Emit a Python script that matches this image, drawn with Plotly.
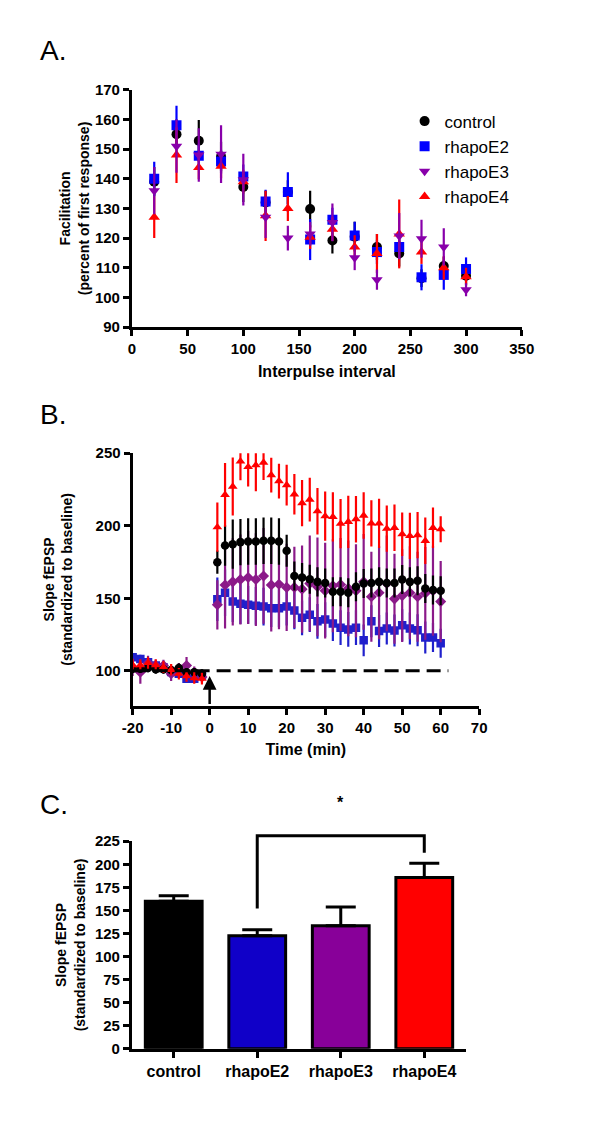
import plotly.graph_objects as go

# ---------------- Panel A data ----------------
ipi = [20, 40, 60, 80, 100, 120, 140, 160, 180, 200, 220, 240, 260, 280, 300]
a_control = [139, 155, 152.8, 147.5, 137.2, 132, 135.5, 129.8, 119.2, 120.5, 117, 114.8, 106.5, 110.6, 107.3]
a_control_err = [5, 5, 7, 5, 5, 4, 4, 6.2, 4.4, 5, 4.4, 4.4, 3, 3, 3]
a_e2 = [140, 158, 147.8, 145.8, 140.8, 132.3, 135.5, 119.5, 126.2, 120.9, 115.3, 117, 106.8, 107.6, 109.6]
a_e2_err = [5.7, 6.6, 4, 4, 4, 4, 6.7, 6.9, 4, 4.6, 4, 4, 4.4, 5, 3.9]
a_e3 = [136, 151, 148, 148.3, 139.7, 127, 120, 121.4, 125.3, 113.4, 106, 120.7, 119.8, 117, 102.6]
a_e3_err = [8, 9, 9, 9.7, 8.7, 7, 4.2, 4, 6.4, 4.2, 3.4, 7.8, 6.4, 6.3, 2.2]
a_e4 = [127, 148, 143.8, 144.2, 139, 127.5, 130, 120.3, 123, 117, 114.8, 121.4, 115.3, 110, 107]
a_e4_err = [7, 9.4, 4, 4, 4, 8.5, 4.2, 4, 4, 4, 6.6, 11.6, 4, 4, 3]
a_xticks = [0, 50, 100, 150, 200, 250, 300, 350]
a_yticks = [90, 100, 110, 120, 130, 140, 150, 160, 170]

# ---------------- Panel B data ----------------
b_time = [-20, -18, -16, -14, -12, -10, -8, -6, -4, -2,
          2, 4, 6, 8, 10, 12, 14, 16, 18, 20, 22, 24, 26, 28, 30,
          32, 34, 36, 38, 40, 42, 44, 46, 48, 50, 52, 54, 56, 58, 60]
b_control = [101.5, 101.4, 102, 101, 101, 100.5, 102, 99, 99, 98,
             174.9, 186.4, 187.3, 188.7, 189.1, 189.1, 189.6, 189.6, 189.1, 182.8,
             165.4, 164.3, 163.1, 161.3, 160.6, 154.5, 154.5, 153.8, 157.9, 160.2,
             160.6, 161.3, 160.6, 160.6, 162.9, 161.3, 162, 156.8, 155.7, 155.2]
b_control_err = [3, 3, 3, 3, 3, 3, 3, 3, 3, 3,
                 8, 14, 17, 16, 16, 16, 16, 16, 16, 11,
                 10, 10, 10, 10, 10, 10, 10, 10, 10, 10,
                 10, 10, 10, 10, 10, 10, 10, 10, 10, 10]
b_e2 = [109.3, 108.1, 105.9, 103.6, 102.5, 99.1, 98, 94.6, 94.6, 96.8,
        149.3, 153.8, 147.7, 146.2, 145.5, 144.8, 144.3, 143.2, 143.2, 144.3,
        141.6, 136.5, 138.7, 134.1, 135.3, 132.6, 129.7, 128.5, 129.7, 121,
        134.1, 127.4, 129.2, 127.8, 131.4, 129.2, 128, 122.9, 122.9, 119]
b_e2_err = [3, 3, 3, 3, 3, 3, 3, 3, 3, 3,
            15, 16, 14, 14, 13, 13, 13, 13, 13, 13,
            13, 12, 12, 12, 12, 12, 12, 12, 12, 11,
            11, 11, 11, 11, 11, 11, 11, 11, 10, 10]
b_e3 = [102.5, 99, 105.4, 103.6, 103.6, 98, 101.4, 103.6, 99, 95.7,
        145.5, 159.1, 161.3, 162.9, 164.3, 162.9, 165.4, 159.1, 159.7, 157.5,
        157.5, 156.3, 160.2, 157.9, 155.2, 158.6, 159.5, 156.8, 155.2, 161.3,
        151.1, 153.8, 160.2, 149.6, 151.8, 153.8, 151.1, 153.4, 155.2, 147.7]
b_e3_err = [6, 8, 5, 4, 4, 5, 4, 6, 4, 4,
            17, 30, 30, 31, 32, 32, 33, 32, 31, 30,
            28, 30, 33, 34, 33, 32, 32, 33, 32, 33,
            31, 32, 33, 31, 32, 32, 31, 32, 31, 28]
b_e4 = [104, 104, 105.4, 104, 102.5, 100.7, 98, 96.4, 95, 94.6,
        199, 221.3, 227, 244.4, 240.5, 241.7, 243.5, 234.9, 230.8, 228,
        221.7, 215.6, 218, 210, 206.6, 206.1, 201.4, 202.7, 204.5, 207,
        201.6, 201.6, 198, 198.6, 194.2, 193, 193.5, 189.6, 198.6, 197.6]
b_e4_err = [4, 4, 4, 4, 4, 4, 4, 4, 4, 4,
            17, 22, 20, 13, 13.5, 18, 12, 12, 12, 14,
            14, 16, 15, 16, 17, 17, 17, 18, 16, 16,
            16, 17, 16, 16, 15, 16, 16, 16, 14, 9]
b_xticks = [-20, -10, 0, 10, 20, 30, 40, 50, 60, 70]
b_yticks = [100, 150, 200, 250]
b_baseline = 100
b_induction_time = 0

# ---------------- Panel C data ----------------
c_groups = ["control", "rhapoE2", "rhapoE3", "rhapoE4"]
c_mean = [160, 122.5, 133.5, 185.8]
c_err = [6, 6.4, 20.3, 15.4]
c_yticks = [0, 25, 50, 75, 100, 125, 150, 175, 200, 225]

# ---------------- styling ----------------
W, H = 600, 1126
FONT = "Liberation Sans, Arial, sans-serif"
names = ["control", "rhapoE2", "rhapoE3", "rhapoE4"]
colA = ["#000000", "#0000FF", "#8800AA", "#FF0000"]
colB = ["#000000", "#2020CC", "#8B1A89", "#FF0000"]
colC = ["#000000", "#1000C8", "#880099", "#FF0000"]
symA = ["circle", "square", "triangle-down", "triangle-up"]
symB = ["circle", "square", "diamond", "triangle-up"]


def dom_x(p0, p1):
    return [p0 / W, p1 / W]


def dom_y(top, bottom):
    return [1 - bottom / H, 1 - top / H]


A_dx, A_dy = dom_x(126, 532), dom_y(82, 323)
B_dx, B_dy = dom_x(126.7, 487.7), dom_y(451, 707.3)
C_dx, C_dy = dom_x(126, 474), dom_y(845, 1055.7)
A_rx, A_ry = [0, 350], [90, 170]
B_rx, B_ry = [-20, 70], [76, 250]
C_rx, C_ry = [-0.5, 3.5], [0, 225]

fig = go.Figure()

# Panel A traces (draw order: control, E2, E4, E3; legend order by rank)
a_series = [(a_control, a_control_err), (a_e2, a_e2_err), (a_e3, a_e3_err), (a_e4, a_e4_err)]
for i in [0, 1, 3, 2]:
    vals, err = a_series[i]
    fig.add_trace(go.Scatter(
        x=ipi, y=vals, mode="markers", name=names[i],
        marker=dict(symbol=symA[i], size=10, color=colA[i], line=dict(width=0)),
        error_y=dict(type="data", array=err, color=colA[i], thickness=2.2, width=0),
        xaxis="x", yaxis="y", legendrank=i + 1, legendgroup=names[i],
    ))

# Panel B traces (draw order: E2, E3, control, E4)
b_series = [(b_control, b_control_err), (b_e2, b_e2_err), (b_e3, b_e3_err), (b_e4, b_e4_err)]
for i in [1, 2, 0, 3]:
    vals, err = b_series[i]
    fig.add_trace(go.Scatter(
        x=b_time, y=vals, mode="markers", name=names[i], showlegend=False,
        marker=dict(symbol=symB[i], size=8.5, color=colB[i], line=dict(width=0)),
        error_y=dict(type="data", array=err, color=colB[i], thickness=2.2, width=0),
        xaxis="x2", yaxis="y2",
    ))

# Panel C bars
fig.add_trace(go.Bar(
    x=list(range(len(c_groups))), y=c_mean, width=0.68, showlegend=False,
    marker=dict(color=colC, line=dict(color="#000000", width=3)),
    error_y=dict(type="data", array=c_err, arrayminus=[0] * len(c_err), symmetric=False,
                 color="#000000", thickness=3, width=15),
    xaxis="x3", yaxis="y3",
))

tickfont = dict(family=FONT, size=15, color="#000000", weight="bold")
titlefont = dict(family=FONT, size=14, color="#000000", weight="bold")
xtitlefont = dict(family=FONT, size=16, color="#000000", weight="bold")
axis_common = dict(showline=True, linewidth=3, linecolor="#000000", ticks="outside",
                   ticklen=6, tickwidth=2.5, tickcolor="#000000", showgrid=False,
                   zeroline=False, tickfont=tickfont)

fig.update_layout(
    width=W, height=H, margin=dict(l=0, r=0, t=0, b=0),
    paper_bgcolor="white", plot_bgcolor="white",
    font=dict(family=FONT, color="#000000"),
    xaxis=dict(domain=A_dx, range=A_rx, anchor="y", tickvals=a_xticks,
               title=dict(text="Interpulse interval", font=xtitlefont, standoff=10), **axis_common),
    yaxis=dict(domain=A_dy, range=A_ry, anchor="x", tickvals=a_yticks,
               title=dict(text="Facilitation<br>(percent of first response)", font=titlefont, standoff=3),
               **axis_common),
    xaxis2=dict(domain=B_dx, range=B_rx, anchor="y2", tickvals=b_xticks,
                ticktext=[str(v) for v in b_xticks],
                title=dict(text="Time (min)", font=xtitlefont, standoff=10), **axis_common),
    yaxis2=dict(domain=B_dy, range=B_ry, anchor="x2", tickvals=b_yticks,
                title=dict(text="Slope fEPSP<br>(standardized to baseline)", font=titlefont, standoff=20),
                **axis_common),
    xaxis3=dict(domain=C_dx, range=C_rx, anchor="y3", tickvals=list(range(len(c_groups))),
                ticktext=c_groups, **{**axis_common, "tickfont": dict(family=FONT, size=16, color="#000000", weight="bold")}),
    yaxis3=dict(domain=C_dy, range=C_ry, anchor="x3", tickvals=c_yticks,
                title=dict(text="Slope fEPSP<br>(standardized to baseline)", font=titlefont, standoff=7),
                **axis_common),
    legend=dict(x=410 / W, y=1 - 96 / H, xanchor="left", yanchor="top",
                font=dict(family=FONT, size=17, color="#000000"),
                bgcolor="rgba(0,0,0,0)", tracegroupgap=0, itemwidth=30),
)

# Panel B baseline dashed line and induction arrow
fig.add_shape(type="line", xref="x2", yref="y2", x0=B_rx[0], x1=62, y0=b_baseline, y1=b_baseline,
              line=dict(color="#000000", width=3, dash="14px,7px"))
fig.add_annotation(xref="x2", yref="y2", axref="x2", ayref="y2",
                   x=b_induction_time, y=96.5, ax=b_induction_time, ay=B_ry[0],
                   text="", showarrow=True, arrowhead=2, arrowsize=1.1, arrowwidth=2.5,
                   arrowcolor="#000000")


# Panel C significance bracket (paper y from C axis mapping)
def c_py(v):
    return C_dy[0] + (v - C_ry[0]) / (C_ry[1] - C_ry[0]) * (C_dy[1] - C_dy[0])


fig.add_shape(type="path", xref="x3", yref="paper",
              path=f"M 1,{c_py(152)} L 1,{c_py(231)} L 3,{c_py(231)} L 3,{c_py(212.5)}",
              line=dict(color="#000000", width=3))
fig.add_annotation(xref="x3", yref="paper", x=2, y=c_py(256), text="*", showarrow=False,
                   font=dict(family=FONT, size=16, color="#000000", weight="bold"))

# Panel labels
for lab, ytop in [("A.", 24), ("B.", 394), ("C.", 790)]:
    fig.add_annotation(xref="paper", yref="paper", x=28 / W, y=1 - ytop / H, text=lab,
                       showarrow=False, xanchor="left", yanchor="top",
                       font=dict(family=FONT, size=28, color="#000000"))

fig.write_html("out.html", config={"displayModeBar": False},
               post_script="document.body.style.margin='0px';document.body.style.overflow='hidden';")
